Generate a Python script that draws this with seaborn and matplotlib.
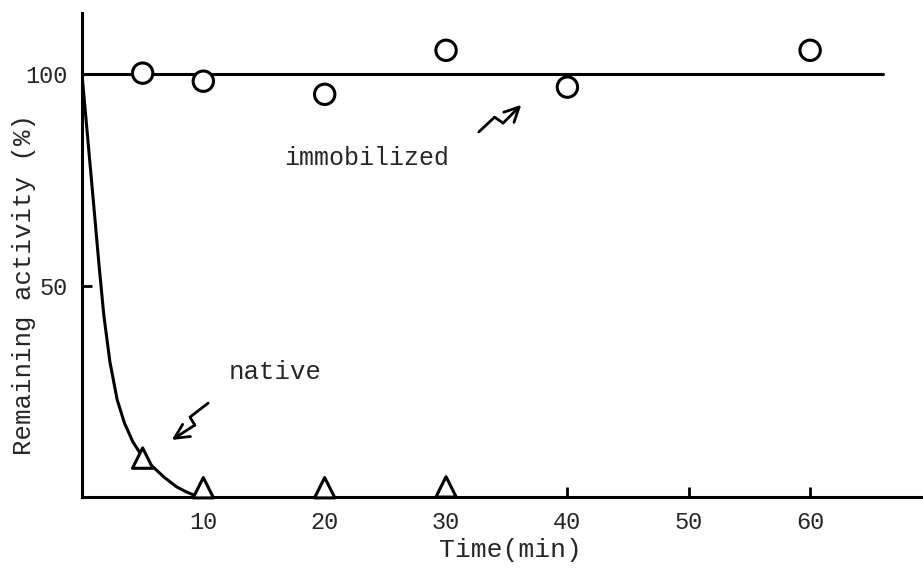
import numpy as np
import pandas as pd
import matplotlib
matplotlib.use("Agg")
import matplotlib.pyplot as plt
import seaborn as sns

# Data
immob_time = [5, 10, 20, 30, 40, 60]
immob_activity = [100.2, 98.3, 95.2, 105.6, 96.9, 105.6]

native_time = [5, 10, 20, 30]
native_activity = [9.2, 2.2, 2.2, 2.4]

# fitted lines drawn on the figure
immob_line_time = [0, 66]
immob_line_activity = [100, 100]

native_curve_time = [0, 0.5, 1.0, 1.4, 1.8, 2.3, 2.9, 3.5, 4.2, 5.2, 5.9, 6.8, 7.8, 8.6, 9.2, 10.0]
native_curve_activity = [100, 84, 68, 55, 43, 32, 23, 17.5, 13, 8.6, 7.0, 4.6, 2.4, 1.2, 0.5, 0.2]

# zigzag pointer arrows
immob_arrow_x = [32.7, 34.0, 34.7, 36.2]
immob_arrow_y = [86.3, 89.8, 88.4, 92.7]
native_arrow_x = [10.4, 8.9, 9.3, 7.4]
native_arrow_y = [22.2, 18.9, 17.0, 13.5]

x_ticks = [10, 20, 30, 40, 50, 60]
y_ticks = [50, 100]

sns.set_theme(style="ticks")
plt.rcParams['font.family'] = ['Liberation Mono', 'DejaVu Sans Mono']

fig = plt.figure(figsize=(9.23, 5.69), dpi=100)
ax = fig.add_axes([0.0888, 0.1265, 0.9112, 0.8505])

pts = pd.DataFrame({
    "time": immob_time + native_time,
    "activity": immob_activity + native_activity,
    "sample": ["immobilized"] * len(immob_time) + ["native"] * len(native_time),
})

sns.lineplot(x=immob_line_time, y=immob_line_activity, color="black", lw=2.2, ax=ax)
sns.lineplot(x=native_curve_time, y=native_curve_activity, color="black", lw=2.2, ax=ax,
             sort=False, estimator=None)
sns.scatterplot(data=pts, x="time", y="activity", style="sample",
                markers={"immobilized": "o", "native": "^"}, s=215,
                facecolor="white", edgecolor="black", linewidth=2.2,
                legend=False, ax=ax, zorder=3, clip_on=False)

# zigzag arrows
for xs, ys in [(immob_arrow_x, immob_arrow_y), (native_arrow_x, native_arrow_y)]:
    ax.plot(xs[:-1], ys[:-1], color="black", lw=2.0)
    ax.annotate("", xy=(xs[-1], ys[-1]), xytext=(xs[-2], ys[-2]),
                arrowprops=dict(arrowstyle="->", color="black", lw=2.0,
                                mutation_scale=26, shrinkA=0, shrinkB=0))

ax.text(23.5, 80.1, "immobilized", fontsize=18, ha="center", va="center")
ax.text(15.9, 29.5, "native", fontsize=18.5, ha="center", va="center")

ax.set_xlim(0, 69.3)
ax.set_ylim(0, 114.4)
ax.set_xticks(x_ticks)
ax.set_yticks(y_ticks)
ax.tick_params(direction="in", length=7, width=2, labelsize=17, pad=10, color="black")
sns.despine(ax=ax)
for sp in ["left", "bottom"]:
    ax.spines[sp].set_linewidth(2.2)
    ax.spines[sp].set_color("black")

ax.set_xlabel("Time(min)", fontsize=19)
ax.set_ylabel("Remaining activity (%)", fontsize=18.5)
ax.xaxis.set_label_coords(0.51, -0.085)
ax.yaxis.set_label_coords(-0.055, 0.44)

fig.savefig("out.png", dpi=100)
